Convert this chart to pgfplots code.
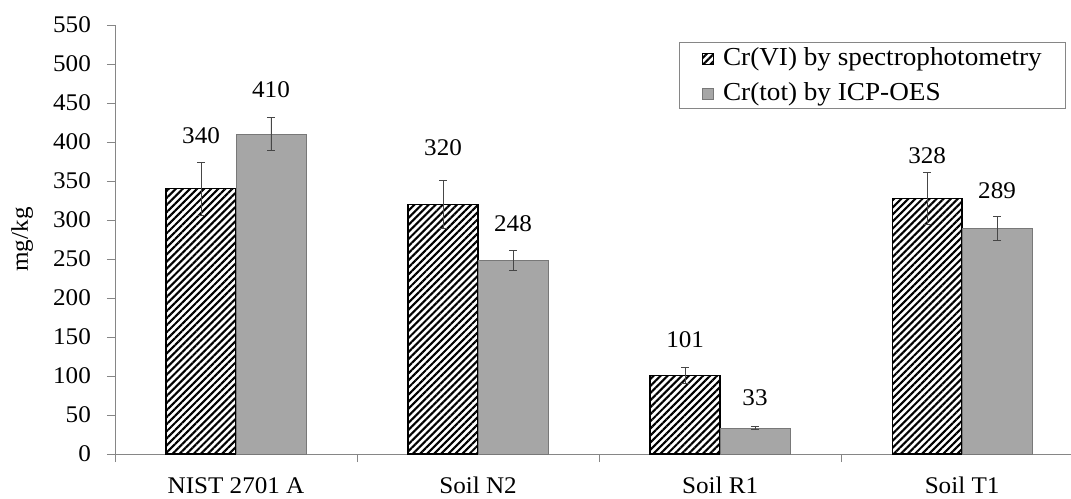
\documentclass[border=0pt]{standalone}
\usepackage{pgfplots}
\pgfplotsset{compat=1.18}
\usepackage{pgfplotstable}
\usepackage{fontspec}
\setmainfont[FakeStretch=1.05]{Liberation Serif}
\usetikzlibrary{patterns.meta,calc}

% Cr(VI) by spectrophotometry: mean, uncertainty, height of the value label
\pgfplotstableread{
x y err lpos
0 340 34 408
1 320 31 393
2 101 10 146
3 328 33 383
}\crvi
% Cr(tot) by ICP-OES
\pgfplotstableread{
x y err lpos
0 410 21 467
1 248 13 295
2 33 2 72
3 289 15 337
}\crtot

\definecolor{barGray}{RGB}{166,166,166}
\definecolor{edgeGray}{RGB}{120,120,120}
\definecolor{axisGray}{RGB}{134,134,134}
\definecolor{errGray}{RGB}{70,70,70}

\begin{document}
\fontsize{24}{28}\selectfont
\begin{tikzpicture}
\begin{axis}[
  scale only axis, width=956bp, height=429bp,
  xmin=-0.5, xmax=3.45, ymin=0, ymax=550,
  axis lines*=left,
  axis line style={axisGray, line width=1pt, -},
  ytick distance=50,
  xtick={-0.5,0.5,1.5,2.5}, xticklabels={},
  extra x ticks={0,1,2,3},
  extra x tick labels={NIST 2701 A, Soil N2, Soil R1, Soil T1},
  extra x tick style={major tick length=0pt, tick label style={yshift=-15bp}},
  tick style={axisGray, line width=0.8pt},
  major tick length=8bp,
  tick align=outside,
  /pgf/number format/assume math mode=true,
  ylabel={mg/kg},
  ylabel style={yshift=4bp},
  yticklabel style={xshift=-8bp},
  clip=false,
  legend style={at={(0.995,0.96)}, anchor=north east, draw=axisGray,
    line width=0.8pt, inner xsep=22bp, inner ysep=3bp, row sep=9bp,
    font=\fontsize{26}{30}\selectfont},
  legend cell align=left,
  legend image code/.code={%
    \draw[#1, line width=0.6pt] (0bp,-6bp) rectangle (11bp,5bp);
    \path (0bp,0bp) (18bp,0bp);},
  nodes near coords,
  nodes near coords style={anchor=center, text=black},
  error bars/error bar style={errGray, line width=0.8pt},
  error bars/error mark options={errGray, line width=0.8pt, mark size=4bp, rotate=90},
]
\addplot[ybar, bar width=0.289, bar shift=0pt, draw=black, line width=1.3pt,
  pattern={Lines[angle=45, distance=5bp, line width=2.1bp]}, pattern color=black,
  visualization depends on={(\thisrow{lpos}-\thisrow{y})*0.78 \as \lshift},
  nodes near coords style={yshift=\lshift bp},
  error bars/.cd, y dir=both, y explicit]
  table[x expr=\thisrow{x}-0.1445, y=y, y error=err]{\crvi};
\addlegendentry{Cr(VI) by spectrophotometry}
\addplot[ybar, bar width=0.289, bar shift=0pt, draw=edgeGray, line width=0.8pt,
  fill=barGray,
  visualization depends on={(\thisrow{lpos}-\thisrow{y})*0.78 \as \lshift},
  nodes near coords style={yshift=\lshift bp},
  error bars/.cd, y dir=both, y explicit]
  table[x expr=\thisrow{x}+0.1445, y=y, y error=err]{\crtot};
\addlegendentry{Cr(tot) by ICP-OES}
\coordinate (O) at (rel axis cs:0,0);
\end{axis}
\pgfresetboundingbox
\path[use as bounding box] ($(O)+(-115bp,-45bp)$) rectangle ($(O)+(956bp,454bp)$);
\end{tikzpicture}
\end{document}
